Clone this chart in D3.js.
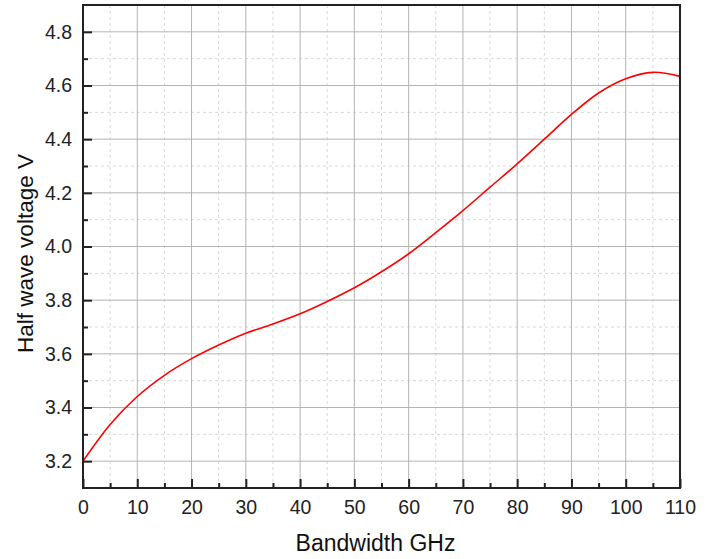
<!DOCTYPE html>
<html>
<head>
<meta charset="utf-8">
<script src="https://cdn.jsdelivr.net/npm/d3@7"></script>
<style>
  body { margin: 0; background: #fff; }
  svg { font-family: "Liberation Sans", Arial, sans-serif; }
</style>
</head>
<body>
<div class="container"></div>
<script>
// bandwidth (GHz) and half wave voltage (V)
var bandwidth = [0, 5, 10, 15, 20, 25, 30, 35, 40, 45, 50, 55, 60, 65, 70, 75, 80, 85, 90, 95, 100, 105, 110];
var voltage = [3.2, 3.337, 3.441, 3.52, 3.582, 3.633, 3.677, 3.711, 3.749, 3.795, 3.846, 3.906, 3.973, 4.052, 4.134, 4.221, 4.308, 4.40, 4.492, 4.572, 4.625, 4.649, 4.634];
var xTicks = [0, 10, 20, 30, 40, 50, 60, 70, 80, 90, 100, 110];
var yTicks = [3.2, 3.4, 3.6, 3.8, 4.0, 4.2, 4.4, 4.6, 4.8];
var xMinor = [5, 15, 25, 35, 45, 55, 65, 75, 85, 95, 105];
var yMinor = [3.3, 3.5, 3.7, 3.9, 4.1, 4.3, 4.5, 4.7];

var width = 716, height = 559;
var pLeft = 83, pRight = 680, pTop = 5, pBottom = 488;
var font = "'Liberation Sans', Arial, sans-serif";

var svg = d3.select(".container").append("svg")
    .attr("width", width)
    .attr("height", height);

var x = d3.scaleLinear().domain([0, 110]).range([pLeft, pRight]);
var y = d3.scaleLinear().domain([3.1, 4.9]).range([pBottom, pTop]);

// minor grid (dashed)
svg.append("g").selectAll("line").data(xMinor).enter().append("line")
    .attr("x1", function(d) { return x(d); }).attr("x2", function(d) { return x(d); })
    .attr("y1", pTop).attr("y2", pBottom)
    .attr("stroke", "#d8d8d8").attr("stroke-dasharray", "3,3");
svg.append("g").selectAll("line").data(yMinor).enter().append("line")
    .attr("x1", pLeft).attr("x2", pRight)
    .attr("y1", function(d) { return y(d); }).attr("y2", function(d) { return y(d); })
    .attr("stroke", "#d8d8d8").attr("stroke-dasharray", "3,3");

// major grid
svg.append("g").selectAll("line").data(xTicks.slice(1, -1)).enter().append("line")
    .attr("x1", function(d) { return x(d); }).attr("x2", function(d) { return x(d); })
    .attr("y1", pTop).attr("y2", pBottom)
    .attr("stroke", "#b4b4b4");
svg.append("g").selectAll("line").data(yTicks).enter().append("line")
    .attr("x1", pLeft).attr("x2", pRight)
    .attr("y1", function(d) { return y(d); }).attr("y2", function(d) { return y(d); })
    .attr("stroke", "#b4b4b4");

// curve
var line = d3.line()
    .x(function(d) { return x(d[0]); })
    .y(function(d) { return y(d[1]); })
    .curve(d3.curveCatmullRom);
svg.append("path")
    .datum(d3.zip(bandwidth, voltage))
    .attr("fill", "none")
    .attr("stroke", "#ff0000")
    .attr("stroke-width", 1.6)
    .attr("d", line);

// frame
svg.append("rect")
    .attr("x", pLeft).attr("y", pTop)
    .attr("width", pRight - pLeft).attr("height", pBottom - pTop)
    .attr("fill", "none").attr("stroke", "#222").attr("stroke-width", 2);

// axes with inward ticks
var xAxis = d3.axisBottom(x).tickValues(xTicks).tickSize(-9).tickPadding(12).tickFormat(d3.format("d"));
var gx = svg.append("g").attr("transform", "translate(0," + pBottom + ")").call(xAxis);
gx.select(".domain").remove();
gx.attr("font-family", font);
gx.selectAll(".tick line").attr("stroke", "#222").attr("stroke-width", 2);
gx.selectAll("text").attr("font-size", 19.5).attr("fill", "#222");

var xMinorAxis = d3.axisBottom(x).tickValues(xMinor).tickSize(-5).tickFormat("");
var gxm = svg.append("g").attr("transform", "translate(0," + pBottom + ")").call(xMinorAxis);
gxm.select(".domain").remove();
gxm.selectAll(".tick line").attr("stroke", "#222").attr("stroke-width", 2);

var yAxis = d3.axisLeft(y).tickValues(yTicks).tickSize(-9).tickPadding(11).tickFormat(d3.format(".1f"));
var gy = svg.append("g").attr("transform", "translate(" + pLeft + ",0)").call(yAxis);
gy.select(".domain").remove();
gy.attr("font-family", font);
gy.selectAll(".tick line").attr("stroke", "#222").attr("stroke-width", 2);
gy.selectAll("text").attr("font-size", 19.5).attr("fill", "#222");

var yMinorAxis = d3.axisLeft(y).tickValues(yMinor).tickSize(-5).tickFormat("");
var gym = svg.append("g").attr("transform", "translate(" + pLeft + ",0)").call(yMinorAxis);
gym.select(".domain").remove();
gym.selectAll(".tick line").attr("stroke", "#222").attr("stroke-width", 2);

// titles
svg.append("text")
    .attr("x", (pLeft + pRight) / 2 - 6)
    .attr("y", 551)
    .attr("text-anchor", "middle")
    .attr("font-size", 23)
    .attr("fill", "#111")
    .text("Bandwidth GHz");

svg.append("text")
    .attr("transform", "translate(33," + ((pTop + pBottom) / 2 + 7) + ") rotate(-90)")
    .attr("text-anchor", "middle")
    .attr("font-size", 22.5)
    .attr("fill", "#111")
    .text("Half wave voltage V");
</script>
</body>
</html>
